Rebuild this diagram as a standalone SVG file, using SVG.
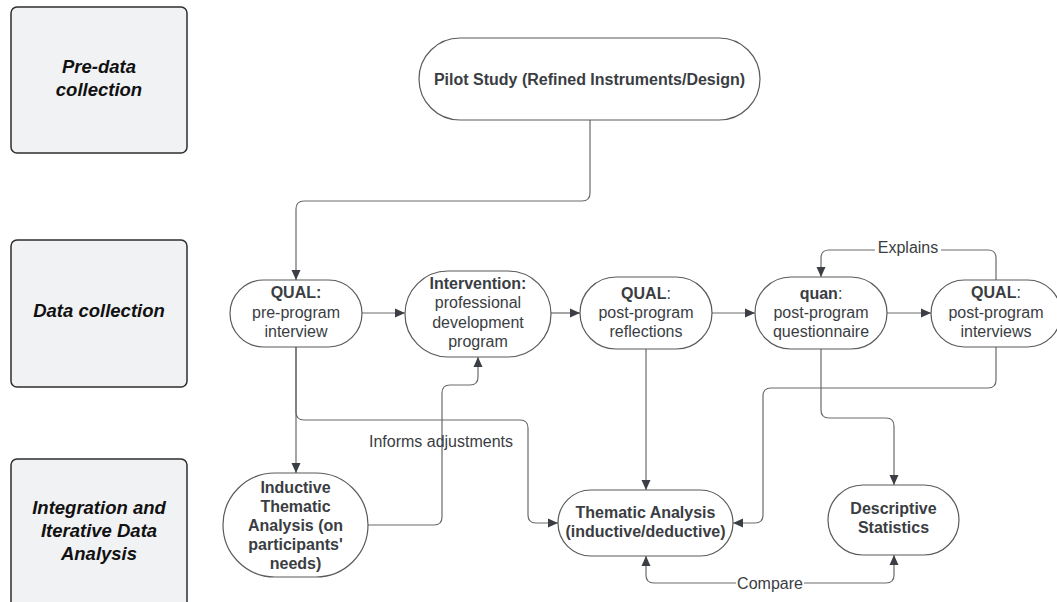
<svg xmlns="http://www.w3.org/2000/svg" width="1057" height="602" viewBox="0 0 1057 602">
<style>
.phase{fill:#f1f2f4;stroke:#2e2e2e;stroke-width:1.5}
.ptxt{font-family:"Liberation Sans",Arial,sans-serif;font-size:18.5px;font-weight:bold;font-style:italic;fill:#111;text-anchor:middle}
.node{fill:#fff;stroke:#5a5a5a;stroke-width:1.2}
.t{font-family:"Liberation Sans",Arial,sans-serif;font-size:16px;fill:#3a3d42;text-anchor:middle}
.b{font-weight:bold}
.c{fill:none;stroke:#6a6a6a;stroke-width:1.2}
.lbl{font-family:"Liberation Sans",Arial,sans-serif;font-size:16px;fill:#3a3d42;text-anchor:middle}
</style>
<defs>
<marker id="ah" markerUnits="userSpaceOnUse" markerWidth="11" markerHeight="10" refX="10" refY="5" orient="auto-start-reverse" viewBox="0 0 11 10">
<path d="M0,0.5 L10,5 L0,9.5 z" fill="#3b3f45"/>
</marker>
</defs>
<rect width="1057" height="602" fill="#fff"/>

<g id="phase-pre">
<rect class="phase" x="11" y="7" width="176" height="146" rx="6"/>
<text class="ptxt" x="99" y="73">Pre-data</text>
<text class="ptxt" x="99" y="96">collection</text>
</g>
<g id="phase-data">
<rect class="phase" x="11" y="240" width="176" height="147" rx="6"/>
<text class="ptxt" x="99" y="317">Data collection</text>
</g>
<g id="phase-analysis">
<rect class="phase" x="11" y="459" width="176" height="152" rx="6"/>
<text class="ptxt" x="99" y="514">Integration and</text>
<text class="ptxt" x="99" y="537">Iterative Data</text>
<text class="ptxt" x="99" y="560">Analysis</text>
</g>

<g id="connectors">
<path class="c" d="M590,120 V193 Q590,201 582,201 H304 Q296,201 296,209 V280" marker-end="url(#ah)"/>
<path class="c" d="M362,313 H405" marker-end="url(#ah)"/>
<path class="c" d="M551,313 H580" marker-end="url(#ah)"/>
<path class="c" d="M712,313 H755" marker-end="url(#ah)"/>
<path class="c" d="M887,313 H931" marker-end="url(#ah)"/>
<path class="c" d="M996,280 V258 Q996,250 988,250 H829 Q821,250 821,258 V277" marker-end="url(#ah)"/>
<path class="c" d="M296,347 V473" marker-end="url(#ah)"/>
<path class="c" d="M296,347 V412 Q296,420 304,420 H520 Q528,420 528,428 V515 Q528,523 536,523 H558" marker-end="url(#ah)"/>
<path class="c" d="M368,525 H434 Q442,525 442,517 V393 Q442,385 450,385 H470 Q478,385 478,377 V357" marker-end="url(#ah)"/>
<path class="c" d="M646,349 V490" marker-end="url(#ah)"/>
<path class="c" d="M996,347 V380 Q996,388 988,388 H771 Q763,388 763,396 V515 Q763,523 755,523 H733" marker-end="url(#ah)"/>
<path class="c" d="M821,349 V410 Q821,418 829,418 H886 Q894,418 894,426 V485" marker-end="url(#ah)"/>
<path class="c" d="M646,556 V575 Q646,583 654,583 H886 Q894,583 894,575 V555" marker-start="url(#ah)" marker-end="url(#ah)"/>
<rect x="875" y="240" width="66" height="18" fill="#fff"/>
<text class="lbl" x="908" y="253">Explains</text>
<text class="lbl" x="441" y="447">Informs adjustments</text>
<rect x="736" y="574" width="68" height="18" fill="#fff"/>
<text class="lbl" x="770" y="589">Compare</text>
</g>

<g id="pilot">
<rect class="node" x="419" y="38" width="341" height="82" rx="41"/>
<text class="t b" x="589.5" y="85">Pilot Study (Refined Instruments/Design)</text>
</g>
<g id="qual-pre">
<rect class="node" x="230" y="280" width="132" height="67" rx="33.5"/>
<text class="t b" x="296" y="298">QUAL:</text>
<text class="t" x="296" y="318">pre-program</text>
<text class="t" x="296" y="337">interview</text>
</g>
<g id="intervention">
<rect class="node" x="405" y="271" width="146" height="86" rx="43"/>
<text class="t b" x="478" y="289">Intervention:</text>
<text class="t" x="478" y="308">professional</text>
<text class="t" x="478" y="328">development</text>
<text class="t" x="478" y="347">program</text>
</g>
<g id="qual-reflections">
<rect class="node" x="580" y="277" width="132" height="72" rx="36"/>
<text class="t" x="646" y="299"><tspan class="b">QUAL</tspan>:</text>
<text class="t" x="646" y="318">post-program</text>
<text class="t" x="646" y="337">reflections</text>
</g>
<g id="quan-questionnaire">
<rect class="node" x="755" y="277" width="132" height="72" rx="36"/>
<text class="t" x="821" y="299"><tspan class="b">quan</tspan>:</text>
<text class="t" x="821" y="318">post-program</text>
<text class="t" x="821" y="337">questionnaire</text>
</g>
<g id="qual-interviews">
<rect class="node" x="931" y="280" width="130" height="67" rx="33.5"/>
<text class="t" x="996" y="298"><tspan class="b">QUAL</tspan>:</text>
<text class="t" x="996" y="318">post-program</text>
<text class="t" x="996" y="337">interviews</text>
</g>
<g id="inductive">
<rect class="node" x="223" y="473" width="145" height="104" rx="52"/>
<text class="t b" x="295.5" y="493">Inductive</text>
<text class="t b" x="295.5" y="512">Thematic</text>
<text class="t b" x="295.5" y="531">Analysis (on</text>
<text class="t b" x="295.5" y="550">participants'</text>
<text class="t b" x="295.5" y="569">needs)</text>
</g>
<g id="thematic">
<rect class="node" x="558" y="490" width="175" height="66" rx="33"/>
<text class="t b" x="645.5" y="518">Thematic Analysis</text>
<text class="t b" x="645.5" y="537">(inductive/deductive)</text>
</g>
<g id="descriptive">
<rect class="node" x="828" y="485" width="131" height="70" rx="35"/>
<text class="t b" x="893.5" y="514">Descriptive</text>
<text class="t b" x="893.5" y="533">Statistics</text>
</g>
</svg>
